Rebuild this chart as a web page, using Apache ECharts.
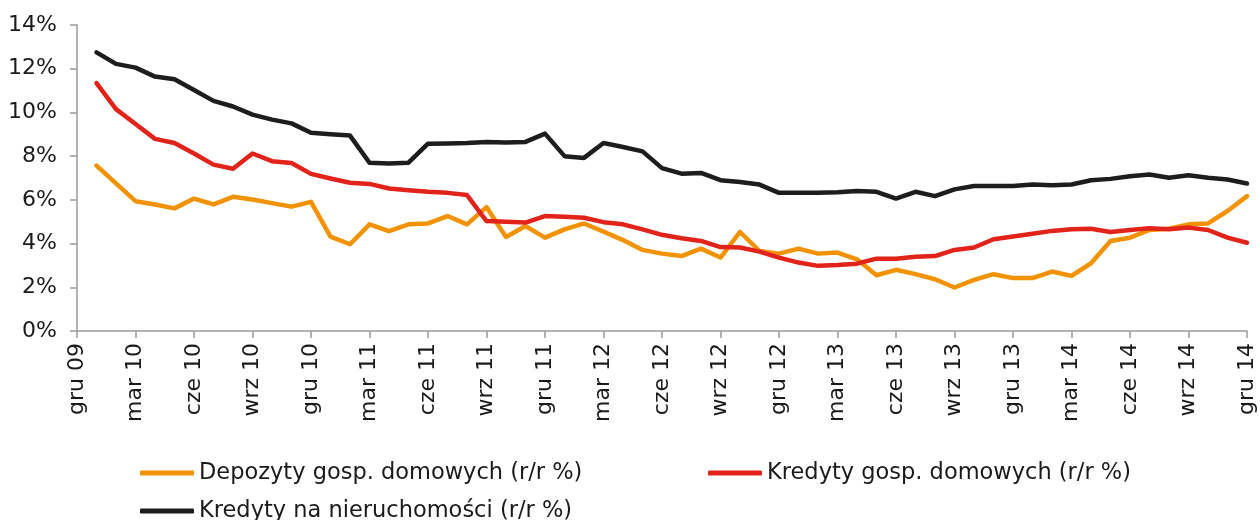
<!DOCTYPE html>
<html>
<head>
<meta charset="utf-8">
<script src="https://cdn.jsdelivr.net/npm/echarts@6/dist/echarts.min.js"></script>
<style>
  html, body { margin: 0; padding: 0; background: #fff; }
  #chart { width: 1260px; height: 520px; }
</style>
</head>
<body>
<div id="chart"></div>
<script>
// months gru 09 .. gru 14 (first month has no data)
const categories = [
  'gru 09',
  'sty 10', 'lut 10', 'mar 10', 'kwi 10', 'maj 10', 'cze 10', 'lip 10', 'sie 10', 'wrz 10', 'paź 10', 'lis 10', 'gru 10',
  'sty 11', 'lut 11', 'mar 11', 'kwi 11', 'maj 11', 'cze 11', 'lip 11', 'sie 11', 'wrz 11', 'paź 11', 'lis 11', 'gru 11',
  'sty 12', 'lut 12', 'mar 12', 'kwi 12', 'maj 12', 'cze 12', 'lip 12', 'sie 12', 'wrz 12', 'paź 12', 'lis 12', 'gru 12',
  'sty 13', 'lut 13', 'mar 13', 'kwi 13', 'maj 13', 'cze 13', 'lip 13', 'sie 13', 'wrz 13', 'paź 13', 'lis 13', 'gru 13',
  'sty 14', 'lut 14', 'mar 14', 'kwi 14', 'maj 14', 'cze 14', 'lip 14', 'sie 14', 'wrz 14', 'paź 14', 'lis 14', 'gru 14'
]

const depozyty = [
  null,
  7.57, 6.75, 5.94, 5.79, 5.61, 6.06, 5.79, 6.14, 6.02, 5.85,
  5.69, 5.91, 4.32, 3.97, 4.88, 4.57, 4.88, 4.92, 5.26, 4.88,
  5.67, 4.30, 4.80, 4.27, 4.65, 4.92, 4.55, 4.16, 3.71, 3.54,
  3.43, 3.77, 3.36, 4.53, 3.66, 3.54, 3.77, 3.54, 3.59, 3.28,
  2.55, 2.80, 2.60, 2.37, 1.99, 2.34, 2.60, 2.42, 2.42, 2.72,
  2.52, 3.10, 4.12, 4.27, 4.62, 4.68, 4.88, 4.92, 5.49, 6.17
]

const kredytyGosp = [
  null,
  11.34, 10.15, 9.47, 8.79, 8.60, 8.12, 7.61, 7.42, 8.12, 7.77,
  7.69, 7.19, 6.98, 6.78, 6.73, 6.52, 6.44, 6.37, 6.32, 6.22,
  5.03, 5.00, 4.96, 5.26, 5.23, 5.18, 4.98, 4.88, 4.65, 4.40,
  4.24, 4.12, 3.84, 3.82, 3.63, 3.36, 3.13, 2.98, 3.02, 3.08,
  3.31, 3.31, 3.40, 3.43, 3.71, 3.82, 4.20, 4.32, 4.45, 4.58,
  4.65, 4.68, 4.53, 4.62, 4.70, 4.65, 4.73, 4.62, 4.27, 4.04
]

const kredytyNier = [
  null,
  12.75, 12.22, 12.05, 11.64, 11.52, 11.03, 10.53, 10.27, 9.90, 9.67,
  9.50, 9.07, 9.00, 8.94, 7.70, 7.66, 7.70, 8.57, 8.58, 8.60,
  8.65, 8.62, 8.65, 9.03, 8.00, 7.92, 8.60, 8.42, 8.22, 7.45,
  7.20, 7.23, 6.90, 6.82, 6.70, 6.32, 6.32, 6.32, 6.35, 6.40,
  6.37, 6.06, 6.37, 6.17, 6.48, 6.63, 6.63, 6.63, 6.70, 6.67,
  6.70, 6.90, 6.96, 7.08, 7.16, 7.01, 7.13, 7.01, 6.93, 6.75
]

const seriesNames = [
  'Depozyty gosp. domowych (r/r %)',
  'Kredyty gosp. domowych (r/r %)',
  'Kredyty na nieruchomości (r/r %)'
]

const FONT = 'DejaVu Sans'
const TEXT = '#1a1a1a'
const AXIS = '#9a9a9a'

const chart = echarts.init(document.getElementById('chart'))

const legendBase = {
  orient: 'horizontal',
  icon: 'roundRect',
  itemWidth: 54,
  itemHeight: 5,
  itemGap: 0,
  selectedMode: false,
  textStyle: { fontFamily: FONT, fontSize: 22.5, color: TEXT, lineHeight: 24 }
}

const makeLine = (name, data, color) => ({
  name: name,
  type: 'line',
  data: data,
  symbol: 'none',
  connectNulls: false,
  lineStyle: { color: color, width: 4.5, cap: 'round', join: 'round' },
  itemStyle: { color: color },
  emphasis: { disabled: true },
  z: 2
})

const option = {
  animation: false,
  backgroundColor: '#fff',
  grid: {
    left: 77,
    right: 13,
    top: 25,
    bottom: 189
  },
  legend: [
    Object.assign({}, legendBase, { left: 135, top: 456, data: [seriesNames[0]] }),
    Object.assign({}, legendBase, { left: 703, top: 456, data: [seriesNames[1]] }),
    Object.assign({}, legendBase, { left: 135, top: 494, data: [seriesNames[2]] })
  ],
  xAxis: {
    type: 'category',
    boundaryGap: false,
    data: categories,
    axisLine: { lineStyle: { color: AXIS, width: 1.5 } },
    axisTick: {
      show: true,
      interval: 2,
      length: 7,
      lineStyle: { color: AXIS, width: 1.5 }
    },
    axisLabel: {
      interval: 2,
      rotate: 90,
      margin: 12,
      color: TEXT,
      fontFamily: FONT,
      fontSize: 22
    },
    splitLine: { show: false }
  },
  yAxis: {
    type: 'value',
    min: 0,
    max: 14,
    interval: 2,
    axisLine: { show: true, lineStyle: { color: AXIS, width: 1.5 } },
    axisTick: { show: true, length: 7, lineStyle: { color: AXIS, width: 1.5 } },
    axisLabel: {
      formatter: '{value}%',
      margin: 20,
      color: TEXT,
      fontFamily: FONT,
      fontSize: 22
    },
    splitLine: { show: false }
  },
  series: [
    makeLine(seriesNames[0], depozyty, '#f39200'),
    makeLine(seriesNames[1], kredytyGosp, '#e2231a'),
    makeLine(seriesNames[2], kredytyNier, '#1d1d1b')
  ]
}

chart.setOption(option)

window.addEventListener('resize', () => chart.resize())
</script>
</body>
</html>
